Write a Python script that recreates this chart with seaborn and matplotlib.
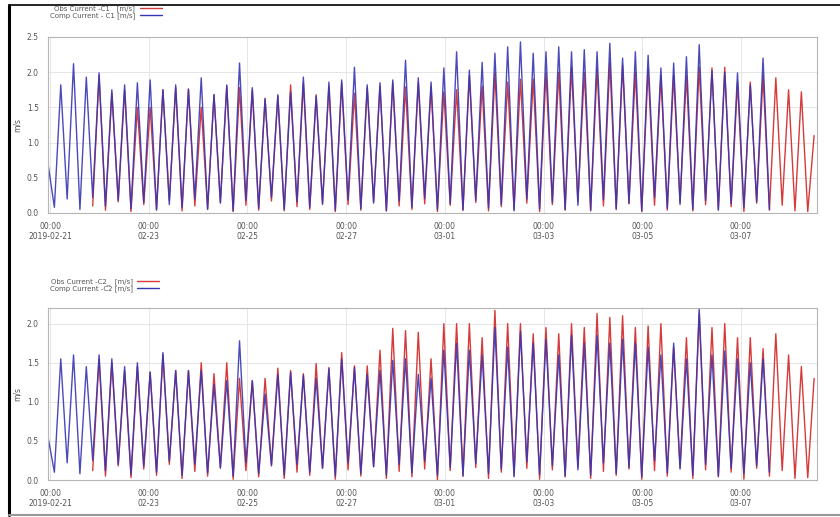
import numpy as np
import pandas as pd
import matplotlib
matplotlib.use("Agg")
import matplotlib.pyplot as plt
import matplotlib.dates as mdates
from matplotlib.lines import Line2D
import seaborn as sns

sns.set_style("white")
plt.rcParams['font.family'] = ['DejaVu Sans']

# ---- data: current speed turning points (peak / slack) ----
# model series: starts with a partial peak, then trough after each peak
c1_comp_peaks = [0.70, 1.82, 2.12, 1.93, 1.99, 1.75, 1.82, 1.85, 1.89, 1.75,
                 1.82, 1.76, 1.92, 1.68, 1.82, 2.13, 1.78, 1.62, 1.68, 1.72,
                 1.93, 1.66, 1.86, 1.89, 2.07, 1.82, 1.85, 1.89, 2.17, 1.92,
                 1.86, 2.06, 2.29, 2.03, 2.14, 2.27, 2.36, 2.43, 2.27, 2.29,
                 2.36, 2.29, 2.32, 2.29, 2.41, 2.20, 2.29, 2.24, 2.06, 2.13,
                 2.22, 2.39, 2.02, 2.00, 1.99, 1.82, 2.20]
c1_comp_troughs = [0.08, 0.20, 0.05, 0.22, 0.10, 0.18, 0.06, 0.15, 0.04, 0.12,
                   0.08, 0.20, 0.05, 0.14, 0.03, 0.18, 0.07, 0.22, 0.05, 0.16,
                   0.08, 0.12, 0.04, 0.19, 0.06, 0.14, 0.03, 0.17, 0.08, 0.21,
                   0.05, 0.13, 0.04, 0.18, 0.07, 0.12, 0.03, 0.20, 0.06, 0.15,
                   0.05, 0.11, 0.04, 0.19, 0.06, 0.14, 0.03, 0.22, 0.07, 0.12,
                   0.05, 0.18, 0.04, 0.13, 0.08, 0.16, 0.05]
# observed series: trough before each peak, last peak is partial
c1_obs_peaks = [1.95, 1.70, 1.75, 1.50, 1.50, 1.75, 1.78, 1.76, 1.50, 1.68,
                1.80, 1.78, 1.75, 1.63, 1.66, 1.82, 1.85, 1.68, 1.80, 1.85,
                1.70, 1.78, 1.80, 1.85, 1.79, 1.85, 1.80, 1.72, 1.75, 1.95,
                1.80, 1.99, 1.86, 1.90, 1.90, 1.99, 2.00, 2.06, 2.00, 2.05,
                2.14, 2.10, 2.00, 2.05, 1.95, 1.95, 1.95, 2.07, 2.06, 2.07,
                1.85, 1.86, 1.95, 1.92, 1.75, 1.72, 1.10]
c1_obs_troughs = [0.10, 0.04, 0.16, 0.02, 0.12, 0.05, 0.18, 0.03, 0.10, 0.06,
                  0.15, 0.02, 0.11, 0.04, 0.17, 0.03, 0.09, 0.05, 0.14, 0.02,
                  0.12, 0.04, 0.16, 0.03, 0.10, 0.05, 0.13, 0.02, 0.11, 0.04,
                  0.15, 0.03, 0.09, 0.05, 0.14, 0.02, 0.12, 0.04, 0.16, 0.03,
                  0.10, 0.05, 0.13, 0.02, 0.11, 0.04, 0.15, 0.03, 0.12, 0.05,
                  0.09, 0.02, 0.14, 0.04, 0.11, 0.03, 0.02]

c2_comp_peaks = [0.55, 1.55, 1.60, 1.45, 1.60, 1.55, 1.45, 1.50, 1.38, 1.63,
                 1.40, 1.40, 1.40, 1.22, 1.27, 1.78, 1.27, 1.10, 1.35, 1.38,
                 1.34, 1.30, 1.42, 1.55, 1.44, 1.35, 1.40, 1.53, 1.55, 1.35,
                 1.30, 1.66, 1.75, 1.66, 1.60, 1.95, 1.70, 1.90, 1.75, 1.80,
                 1.60, 1.85, 1.75, 1.85, 1.75, 1.80, 1.75, 1.70, 1.60, 1.75,
                 1.55, 2.20, 1.60, 1.65, 1.55, 1.50, 1.55]
c2_comp_troughs = [0.10, 0.22, 0.08, 0.25, 0.12, 0.20, 0.07, 0.18, 0.10, 0.24,
                   0.06, 0.20, 0.09, 0.15, 0.05, 0.22, 0.08, 0.18, 0.06, 0.20,
                   0.10, 0.15, 0.05, 0.22, 0.08, 0.17, 0.06, 0.20, 0.09, 0.24,
                   0.06, 0.16, 0.05, 0.21, 0.08, 0.14, 0.04, 0.23, 0.07, 0.18,
                   0.05, 0.13, 0.06, 0.22, 0.08, 0.16, 0.04, 0.25, 0.09, 0.14,
                   0.06, 0.20, 0.05, 0.15, 0.08, 0.18, 0.10]
c2_obs_peaks = [1.55, 1.50, 1.40, 1.45, 1.38, 1.60, 1.40, 1.40, 1.50, 1.36,
                1.50, 1.30, 1.27, 1.30, 1.43, 1.40, 1.36, 1.49, 1.44, 1.63,
                1.46, 1.46, 1.66, 1.94, 1.91, 1.89, 1.55, 2.00, 2.00, 2.00,
                1.82, 2.17, 2.00, 2.00, 1.87, 1.95, 1.87, 2.00, 1.95, 2.13,
                2.08, 2.10, 1.95, 1.97, 2.00, 1.70, 1.82, 2.13, 1.95, 2.00,
                1.82, 1.82, 1.68, 1.87, 1.60, 1.45, 1.30]
c2_obs_troughs = [0.12, 0.05, 0.18, 0.03, 0.14, 0.06, 0.20, 0.02, 0.11, 0.05,
                  0.16, 0.01, 0.12, 0.04, 0.19, 0.02, 0.10, 0.06, 0.15, 0.01,
                  0.13, 0.05, 0.17, 0.02, 0.11, 0.04, 0.14, 0.00, 0.12, 0.05,
                  0.16, 0.02, 0.10, 0.06, 0.15, 0.01, 0.13, 0.04, 0.17, 0.02,
                  0.11, 0.06, 0.14, 0.01, 0.12, 0.05, 0.16, 0.02, 0.13, 0.04,
                  0.10, 0.01, 0.15, 0.05, 0.12, 0.02, 0.03]

tick_dates = ["2019-02-21", "2019-02-23", "2019-02-25", "2019-02-27",
              "2019-03-01", "2019-03-03", "2019-03-05", "2019-03-07"]
tick_labels = ["00:00\n2019-02-21", "00:00\n02-23", "00:00\n02-25", "00:00\n02-27",
               "00:00\n03-01", "00:00\n03-03", "00:00\n03-05", "00:00\n03-07"]

# half a semidiurnal current cycle between turning points
start = pd.Timestamp("2019-02-20 23:00")
half_step_h = 3.105
comp_first = 0
obs_first = 7
t_end = start + pd.Timedelta(hours=374)

OBS_COL = "#d63a3a"
COMP_COL = "#3636b4"


def build(peaks, troughs, first, peak_first, name):
    vals = []
    for p, t in zip(peaks, troughs):
        vals += [p, t] if peak_first else [t, p]
    hours = (first + np.arange(len(vals))) * half_step_h
    times = start + pd.to_timedelta(hours, unit="h")
    return pd.DataFrame({"time": times, "speed": vals, "series": name})


panels = [
    ("C1", c1_obs_peaks, c1_obs_troughs, c1_comp_peaks, c1_comp_troughs,
     "Obs Current -C1   [m/s]", "Comp Current - C1 [m/s]", 2.5, [0.0, 0.5, 1.0, 1.5, 2.0, 2.5]),
    ("C2", c2_obs_peaks, c2_obs_troughs, c2_comp_peaks, c2_comp_troughs,
     "Obs Current -C2_  [m/s]", "Comp Current -C2 [m/s]", 2.2, [0.0, 0.5, 1.0, 1.5, 2.0]),
]

fig = plt.figure(figsize=(8.4, 5.17), dpi=100)
ax_rects = [[48/840, 1 - 213/517, 769/840, 176/517],
            [48/840, 1 - 480/517, 769/840, 172/517]]
legend_tops = [1 - 5/517, 1 - 278/517]

for rect, ltop, (tag, op, ot, cp, ct, obs_lab, comp_lab, ymax, yticks) in zip(ax_rects, legend_tops, panels):
    ax = fig.add_axes(rect)
    df = pd.concat([build(op, ot, obs_first, False, obs_lab),
                    build(cp, ct, comp_first, True, comp_lab)])
    sns.lineplot(data=df, x="time", y="speed", hue="series",
                 hue_order=[obs_lab, comp_lab], palette=[OBS_COL, COMP_COL],
                 linewidth=1.0, ax=ax, legend=False, estimator=None)
    ax.lines[-1].set_alpha(0.9)
    ax.set_xlim(start, t_end)
    ax.set_ylim(0, ymax)
    ax.set_yticks(yticks)
    ax.set_yticklabels([f"{v:.1f}" for v in yticks])
    ax.set_xticks(pd.to_datetime(tick_dates))
    ax.set_xticklabels(tick_labels)
    ax.xaxis.set_minor_locator(mdates.HourLocator(byhour=[0, 6, 12, 18]))
    ax.tick_params(axis="both", which="major", labelsize=5.5, colors="#555555",
                   length=2.5, width=0.5, pad=4)
    ax.tick_params(axis="x", which="minor", length=1.5, width=0.4, colors="#999999")
    ax.set_xlabel("")
    ax.set_ylabel("m/s", fontsize=5.5, color="#555555", labelpad=4)
    ax.grid(True, which="major", color="#e2e2e2", linewidth=0.6)
    for s in ax.spines.values():
        s.set_color("#b5b5b5")
        s.set_linewidth(0.8)
    handles = [Line2D([], [], color=OBS_COL, lw=1.0), Line2D([], [], color=COMP_COL, lw=1.0)]
    fig.legend(handles, [obs_lab, comp_lab], loc="upper left",
               bbox_to_anchor=(50/840, ltop), frameon=False, markerfirst=False,
               fontsize=5, handlelength=3.2, handletextpad=0.6,
               labelspacing=0.1, borderpad=0, borderaxespad=0, labelcolor="#555555")

# outer frame of the original screenshot
fig.add_artist(Line2D([9/840, 9/840], [1 - 515/517, 1 - 5/517], color="black", lw=2.2))
fig.add_artist(Line2D([9/840, 1.0], [1 - 5/517, 1 - 5/517], color="black", lw=1.2))
fig.add_artist(Line2D([9/840, 1.0], [1 - 515/517, 1 - 515/517], color="#999999", lw=1.5))

fig.savefig("out.png", dpi=100)
